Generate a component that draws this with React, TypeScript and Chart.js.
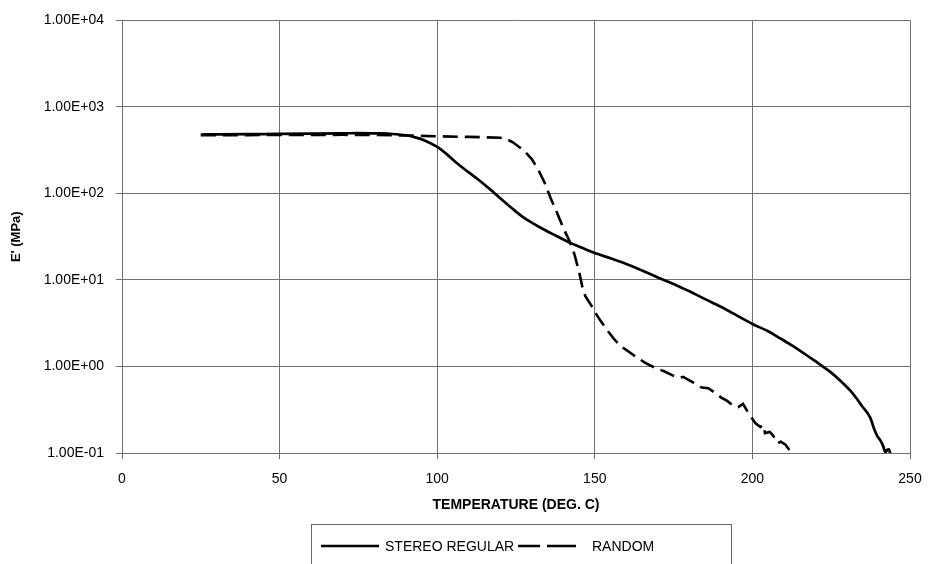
import React, { useEffect, useRef } from "react";
import { Chart, registerables } from "chart.js";

Chart.register(...registerables);

// ---- Data ----
const stereoTemps = [
  25, 30, 40, 50, 60, 70, 75, 80, 85, 90, 93, 96, 100, 103, 106, 110, 113, 116, 118, 121,
  124, 127, 130, 134, 138, 142, 146, 150, 155, 160, 165, 170, 175, 180, 185, 190, 195, 200,
  205, 208, 212, 216, 220, 222, 225, 228, 231, 233, 235, 236.5, 237.5, 238.4, 239.5, 240.6,
  241.5, 242.2, 242.7, 243.3, 244,
];
const stereoModulus = [
  480, 482, 485, 487, 490, 495, 498, 495, 490, 470, 445, 410, 345, 285, 228, 175, 145, 118, 102, 82,
  66, 54, 46, 38, 32, 27, 23.5, 20.5, 17.8, 15.3, 12.9, 10.7, 9.0, 7.4, 6.0, 4.9, 3.9, 3.1,
  2.55, 2.2, 1.8, 1.45, 1.15, 1.02, 0.85, 0.68, 0.53, 0.43, 0.34, 0.29, 0.25, 0.2, 0.16, 0.14,
  0.12, 0.102, 0.108, 0.11, 0.09,
];

const randomTemps = [
  25, 40, 50, 60, 70, 80, 90, 100, 110, 115, 120, 122, 124, 126, 128, 130, 132, 134, 136, 138,
  140, 142, 143.5, 145, 146, 147, 149, 150.5, 152, 154, 156, 158, 160, 163, 166, 169, 172, 175,
  177, 178, 181, 184, 186, 188, 190, 192, 194, 195.5, 197, 199, 201, 202.5, 203.5, 204, 205.5,
  206.5, 208, 209, 210.5, 212, 213, 214,
];
const randomModulus = [
  470, 472, 474, 475, 476, 475, 468, 458, 450, 446, 440, 425, 390, 345, 300, 250, 190, 135, 88, 60,
  40, 28, 20, 12.5, 8.5, 6.5, 5, 4.0, 3.3, 2.6, 2.1, 1.75, 1.55, 1.3, 1.1, 0.97, 0.88, 0.78,
  0.74, 0.76, 0.66, 0.57, 0.56, 0.5, 0.44, 0.4, 0.35, 0.34, 0.37, 0.28, 0.22, 0.2, 0.21, 0.17, 0.175,
  0.16, 0.13, 0.135, 0.125, 0.105, 0.1, 0.09,
];

const seriesLabels = ["STEREO REGULAR", "RANDOM"];
const xTickStep = 50;
const xMin = 0;
const xMax = 250;
const yTickValues = [0.1, 1, 10, 100, 1000, 10000];
const yTickLabels = ["1.00E-01", "1.00E+00", "1.00E+01", "1.00E+02", "1.00E+03", "1.00E+04"];
const xTitle = "TEMPERATURE (DEG. C)";
const yTitle = "E' (MPa)";

// ---- Styles ----
const FONT = "'Liberation Sans', Arial, Helvetica, sans-serif";
const GRID = "#707070";

const legendLayout = [
  { lineFrom: 321, lineTo: 379, textX: 385, dash: [] as number[] },
  { lineFrom: 518, lineTo: 576, textX: 592, dash: [22, 7, 29, 7] },
];

const boxLegend = {
  id: "boxLegend",
  afterDraw(chart: any) {
    const ctx = chart.ctx as CanvasRenderingContext2D;
    ctx.save();
    ctx.strokeStyle = "#666";
    ctx.lineWidth = 1;
    ctx.setLineDash([]);
    ctx.strokeRect(311.5, 524.5, 420, 60);
    const y = 546;
    chart.data.datasets.forEach((ds: any, i: number) => {
      const l = legendLayout[i];
      if (!l) return;
      ctx.beginPath();
      ctx.setLineDash(l.dash);
      ctx.strokeStyle = ds.borderColor;
      ctx.lineWidth = 2.6;
      ctx.moveTo(l.lineFrom, y);
      ctx.lineTo(l.lineTo, y);
      ctx.stroke();
      ctx.setLineDash([]);
      ctx.fillStyle = "#000";
      ctx.font = `14px ${FONT}`;
      ctx.textAlign = "left";
      ctx.textBaseline = "middle";
      ctx.fillText(ds.label, l.textX, y + 1);
    });
    ctx.restore();
  },
};

export default function App() {
  const canvasRef = useRef<HTMLCanvasElement | null>(null);

  useEffect(() => {
    if (!canvasRef.current) return;
    const toPoints = (xs: number[], ys: number[]) => xs.map((x, i) => ({ x, y: ys[i] }));
    const chart = new Chart(canvasRef.current, {
      type: "line",
      data: {
        datasets: [
          {
            label: seriesLabels[0],
            data: toPoints(stereoTemps, stereoModulus),
            borderColor: "#000",
            borderWidth: 2.7,
            pointRadius: 0,
            cubicInterpolationMode: "monotone",
            fill: false,
          },
          {
            label: seriesLabels[1],
            data: toPoints(randomTemps, randomModulus),
            borderColor: "#000",
            borderWidth: 2.6,
            borderDash: [15, 7],
            pointRadius: 0,
            tension: 0,
            fill: false,
          },
        ],
      },
      options: {
        animation: false,
        responsive: true,
        maintainAspectRatio: false,
        layout: { padding: { top: 20, right: 20, left: 0, bottom: 0 } },
        plugins: {
          legend: { display: false },
          tooltip: { enabled: false },
        },
        scales: {
          x: {
            type: "linear",
            min: xMin,
            max: xMax,
            afterFit: (s: any) => {
              s.height = 111;
              s.paddingRight = 0;
              s.paddingLeft = 0;
            },
            ticks: {
              stepSize: xTickStep,
              color: "#000",
              font: { family: FONT, size: 14 },
              padding: 12,
              maxRotation: 0,
            },
            grid: { color: GRID, lineWidth: 1, tickLength: 6, drawTicks: true },
            border: { color: GRID, width: 1 },
            title: {
              display: true,
              text: xTitle,
              color: "#000",
              font: { family: FONT, size: 14, weight: "bold" },
              padding: { top: 0, bottom: 50 },
            },
          },
          y: {
            type: "logarithmic",
            min: 0.1,
            max: 10000,
            afterFit: (s: any) => {
              s.width = 122;
            },
            afterBuildTicks: (s: any) => {
              s.ticks = yTickValues.map((v) => ({ value: v }));
            },
            ticks: {
              autoSkip: false,
              color: "#000",
              font: { family: FONT, size: 14 },
              padding: 12,
              callback: (v: any) => {
                const i = yTickValues.findIndex((t) => Math.abs(t - Number(v)) / t < 1e-6);
                return i >= 0 ? yTickLabels[i] : "";
              },
            },
            grid: { color: GRID, lineWidth: 1, tickLength: 6, drawTicks: true },
            border: { color: GRID, width: 1 },
            title: {
              display: true,
              text: yTitle,
              color: "#000",
              font: { family: FONT, size: 13, weight: "bold" },
              padding: { top: 9, bottom: 0 },
            },
          },
        },
      },
      plugins: [boxLegend],
    });
    return () => chart.destroy();
  }, []);

  return (
    <div style={{ position: "fixed", left: 0, top: 0, width: 930, height: 564, background: "#fff" }}>
      <canvas ref={canvasRef} />
    </div>
  );
}
